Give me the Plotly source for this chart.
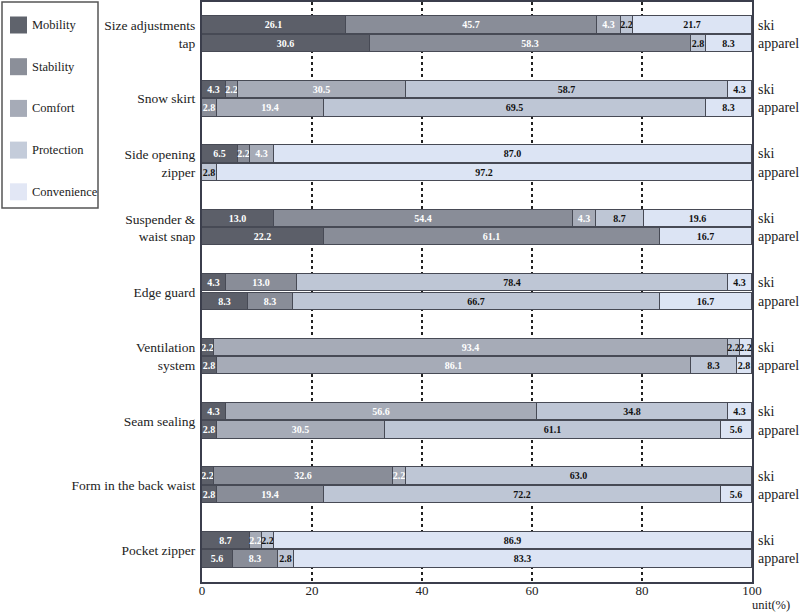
import plotly.graph_objects as go

features = ["Size adjustments<br>tap", "Snow skirt", "Side opening<br>zipper",
            "Suspender &<br>waist snap", "Edge guard", "Ventilation<br>system",
            "Seam sealing", "Form in the back waist", "Pocket zipper"]
groups = ["ski", "apparel"]
categories = ["Mobility", "Stability", "Comfort", "Protection", "Convenience"]

# values per feature: (ski, apparel)
mobility_ski     = [26.1, 4.3, 6.5, 13.0, 4.3, 2.2, 4.3, 2.2, 8.7]
mobility_app     = [30.6, 0.0, 0.0, 22.2, 8.3, 2.8, 2.8, 2.8, 5.6]
stability_ski    = [45.7, 2.2, 2.2, 54.4, 13.0, 0.0, 0.0, 32.6, 0.0]
stability_app    = [58.3, 2.8, 0.0, 61.1, 8.3, 0.0, 0.0, 19.4, 8.3]
comfort_ski      = [4.3, 30.5, 4.3, 4.3, 0.0, 93.4, 56.6, 2.2, 2.2]
comfort_app      = [0.0, 19.4, 0.0, 0.0, 0.0, 86.1, 30.5, 0.0, 0.0]
protection_ski   = [2.2, 58.7, 0.0, 8.7, 78.4, 2.2, 34.8, 63.0, 2.2]
protection_app   = [2.8, 69.5, 2.8, 0.0, 66.7, 8.3, 61.1, 72.2, 2.8]
convenience_ski  = [21.7, 4.3, 87.0, 19.6, 4.3, 2.2, 4.3, 0.0, 86.9]
convenience_app  = [8.3, 8.3, 97.2, 16.7, 16.7, 2.8, 5.6, 5.6, 83.3]

series = {
    "Mobility": (mobility_ski, mobility_app),
    "Stability": (stability_ski, stability_app),
    "Comfort": (comfort_ski, comfort_app),
    "Protection": (protection_ski, protection_app),
    "Convenience": (convenience_ski, convenience_app),
}
colors = {"Mobility": "#5c5f69", "Stability": "#898d98", "Comfort": "#a6abb7",
          "Protection": "#bec6d5", "Convenience": "#dce4f4"}
legend_colors = {"Mobility": "#5f636c", "Stability": "#8b8f99", "Comfort": "#a6abb7",
                 "Protection": "#c4ccda", "Convenience": "#e2e7f5"}
text_colors = {"Mobility": "white", "Stability": "white", "Comfort": "white",
               "Protection": "#111111", "Convenience": "#111111"}

SERIF = "Liberation Serif, Times New Roman, DejaVu Serif, serif"

W, H = 800, 613
ML, MR, MT, MB = 202, 48, 2, 31
PW, PH = W - ML - MR, H - MT - MB


def px_x(px):
    return (px - ML) / PW


def px_y(py):
    return (H - MB - py) / PH


off = 0.143
ypos = []
for i in range(len(features)):
    ypos += [i + 0.5 - off, i + 0.5 + off]

fig = go.Figure()
for name in categories:
    ski, app = series[name]
    vals = []
    for s, a in zip(ski, app):
        vals += [s, a]
    txt = ["" if v == 0 else f"{v:.1f}" for v in vals]
    fig.add_trace(go.Bar(
        x=vals, y=ypos, orientation="h", name=name,
        width=0.27,
        marker=dict(color=colors[name], line=dict(color="#474a55", width=1)),
        text=txt, textposition="inside", insidetextanchor="middle",
        textangle=0, constraintext="none",
        textfont=dict(family=SERIF, size=10, color=text_colors[name], weight="bold"),
        hoverinfo="skip", showlegend=False,
    ))

annotations = []
shapes = []
for i in range(len(features)):
    for j, g in enumerate(groups):
        annotations.append(dict(
            x=1.008, xref="paper", y=i + 0.5 + (off if j else -off), yref="y",
            text=g, showarrow=False, xanchor="left", yanchor="middle",
            font=dict(family=SERIF, size=14, color="#222222")))
annotations.append(dict(x=px_x(771), xref="paper", y=px_y(605), yref="paper", text="unit(%)",
                        showarrow=False, xanchor="center", yanchor="middle", borderpad=0,
                        font=dict(family=SERIF, size=12.5, color="#222222")))

# legend box (drawn manually to match the reference's spacing)
shapes.append(dict(type="rect", xref="paper", yref="paper",
                   x0=px_x(2), x1=px_x(98), y0=px_y(208), y1=px_y(2),
                   line=dict(color="#555555", width=1.5), fillcolor="white", layer="above"))
for k, name in enumerate(categories):
    cy = 25 + k * 41.7
    shapes.append(dict(type="rect", xref="paper", yref="paper",
                       x0=px_x(10), x1=px_x(27), y0=px_y(cy + 8.5), y1=px_y(cy - 8.5),
                       line=dict(width=0), fillcolor=legend_colors[name], layer="above"))
    annotations.append(dict(x=px_x(30), xref="paper", y=px_y(cy), yref="paper", text=name,
                            showarrow=False, xanchor="left", yanchor="middle",
                            font=dict(family=SERIF, size=12.5, color="#222222")))

fig.update_layout(
    width=W, height=H,
    margin=dict(l=ML, r=MR, t=MT, b=MB, autoexpand=False),
    paper_bgcolor="white", plot_bgcolor="white",
    barmode="stack", bargap=0,
    showlegend=False,
    annotations=annotations, shapes=shapes,
    xaxis=dict(range=[0, 100], tickvals=[0, 20, 40, 60, 80, 100],
               showgrid=True, gridcolor="#222222", gridwidth=1.5, griddash="dot",
               zeroline=False, showline=True, mirror=True, linecolor="#3b3e4c", linewidth=2,
               ticks="", ticklabelstandoff=-5,
               tickfont=dict(family=SERIF, size=13, color="#222222")),
    yaxis=dict(range=[len(features), 0], tickvals=[i + 0.5 for i in range(len(features))],
               ticktext=features, showgrid=False, zeroline=False,
               showline=True, mirror=True, linecolor="#3b3e4c", linewidth=2,
               ticks="", ticklabelstandoff=2,
               tickfont=dict(family=SERIF, size=13.5, color="#222222")),
)

fig.write_html("out.html", config={"displayModeBar": False},
               post_script="document.body.style.margin='0px';")
